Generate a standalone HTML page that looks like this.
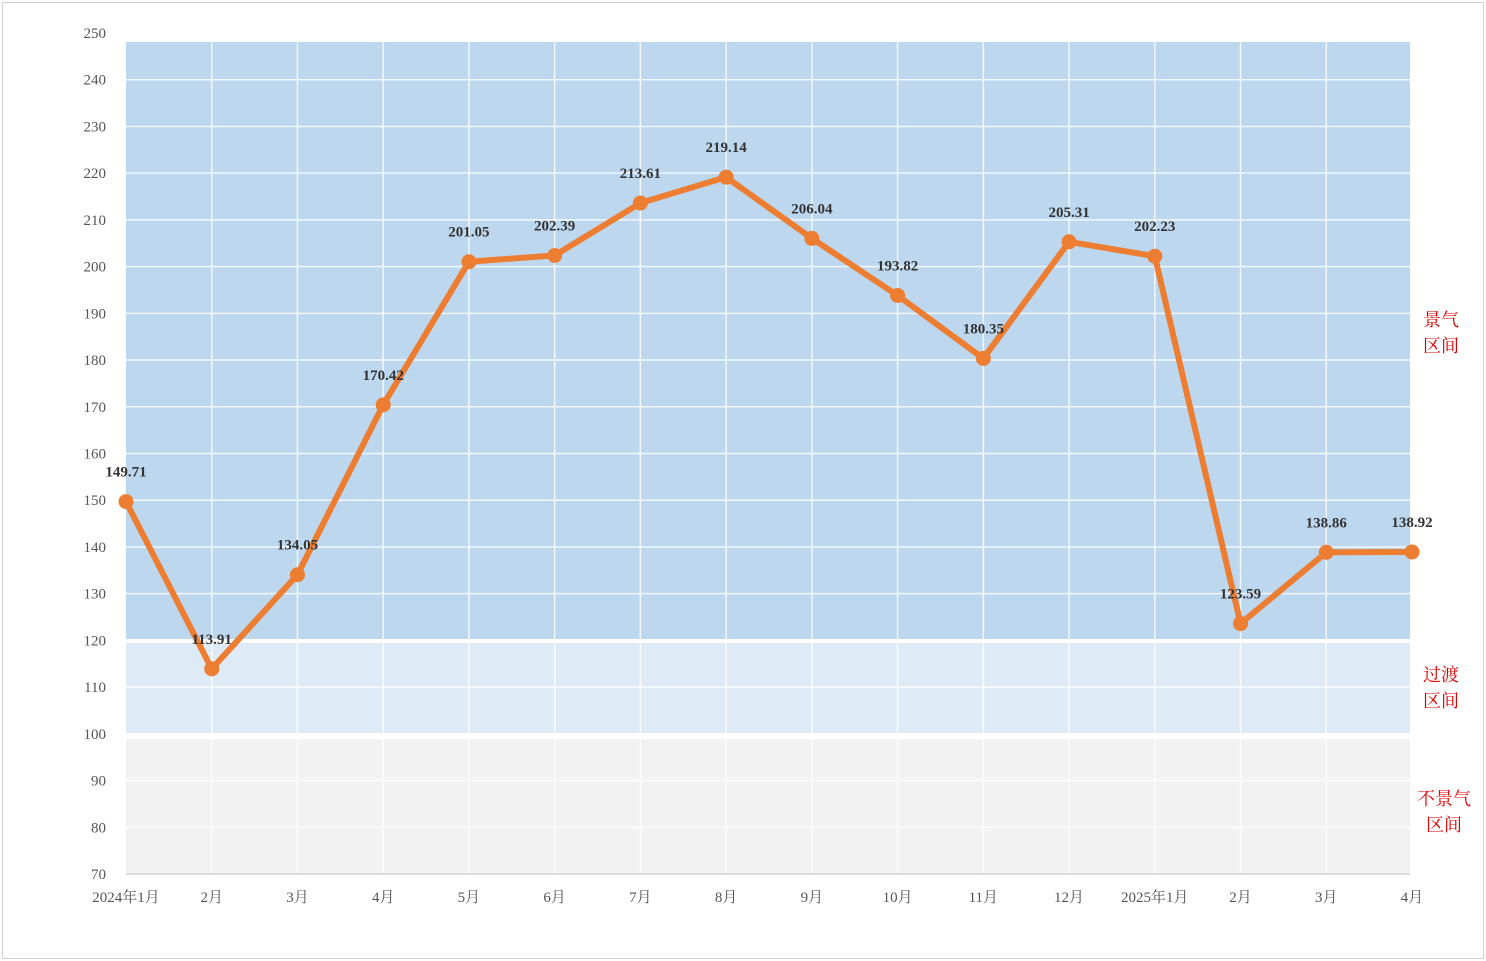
<!DOCTYPE html>
<html><head><meta charset="utf-8"><style>
body{margin:0;background:#fff;}
svg{display:block;font-family:"Liberation Serif","Noto Serif CJK SC",serif;}
</style></head><body>
<svg id="c" width="1486" height="961">
<rect x="2.5" y="2.5" width="1481" height="956" fill="#fff" stroke="#d0d0d0"/>
</svg>
<script>
const categories=["2024年1月","2月","3月","4月","5月","6月","7月","8月","9月","10月","11月","12月","2025年1月","2月","3月","4月"];
const values=[149.71,113.91,134.05,170.42,201.05,202.39,213.61,219.14,206.04,193.82,180.35,205.31,202.23,123.59,138.86,138.92];
const yTicks=[70,80,90,100,110,120,130,140,150,160,170,180,190,200,210,220,230,240,250];
const NS="http://www.w3.org/2000/svg";
const svg=document.getElementById('c');
const y=v=>874-(v-70)*(841/180);
const x=i=>126+i*(1286/15);
function mk(t,a,txt){const e=document.createElementNS(NS,t);for(const k in a)e.setAttribute(k,a[k]);if(txt!==undefined)e.textContent=txt;svg.appendChild(e);return e;}
let r;
r=mk('rect',{x:126,y:42,width:1284,height:597,fill:'#BDD7EE'});


r=mk('rect',{x:126,y:643,width:1284,height:90,fill:'#DEEBF7'});


r=mk('rect',{x:126,y:739,width:1284,height:134,fill:'#F2F2F2'});


yTicks.forEach(v=>{
 if(v>70&&v<250){const l=mk('line',{x1:126,x2:1410,y1:y(v),y2:y(v),stroke:'#fff','stroke-width':1.5,opacity:0.8});
 
 }
 const t=mk('text',{x:106,y:y(v)+5,'text-anchor':'end','font-size':15,fill:'#555'},v);
 
 
});
categories.forEach((c,i)=>{
 if(i>0&&i<15){const l=mk('line',{x1:x(i),x2:x(i),y1:42,y2:873,stroke:'#fff','stroke-width':1.5,opacity:0.8});
 
 }
 const t=mk('text',{x:x(i),y:902,'text-anchor':'middle','font-size':15,fill:'#555'},c);
 
 
});
r=mk('line',{x1:126,x2:1410,y1:874,y2:874,stroke:'#d0d0d0','stroke-width':1.5});


const pts=values.map((v,i)=>x(i)+','+y(v)).join(' ');
r=mk('polyline',{points:pts,fill:'none',stroke:'#ED7D31','stroke-width':6,'stroke-linejoin':'round'});


values.forEach((v,i)=>{
 const c=mk('circle',{cx:x(i),cy:y(v),r:7.5,fill:'#ED7D31'});
 
 
 const t=mk('text',{x:x(i),y:y(v)-25,'text-anchor':'middle','font-size':15,'font-weight':'bold',fill:'#333'},v.toFixed(2));
 
 
});
[["景气",1441,326],["区间",1441,352],["过渡",1441,681],["区间",1441,707],["不景气",1444,805],["区间",1444,831]].forEach(a=>{
 const t=mk('text',{x:a[1],y:a[2],'text-anchor':'middle','font-size':18,fill:'#E00000'},a[0]);
 
 
});
</script>
</body></html>
